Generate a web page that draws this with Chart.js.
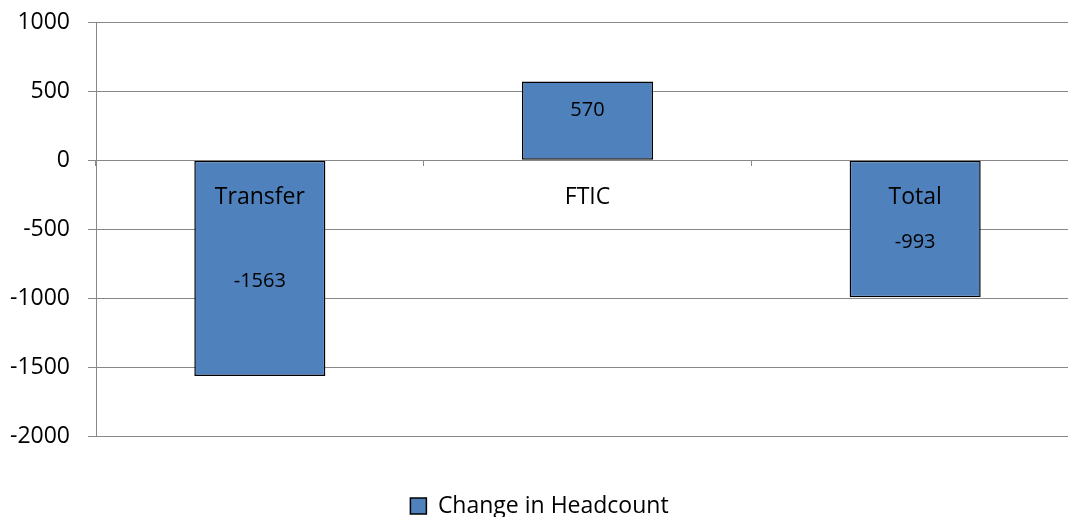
<!DOCTYPE html>
<html>
<head>
<meta charset="utf-8">
<script src="https://cdn.jsdelivr.net/npm/chart.js@4.4.1/dist/chart.umd.min.js"></script>
<style>
  html, body { margin: 0; padding: 0; background: #fff; overflow: hidden; width: 1068px; height: 517px; }
  #wrap { width: 1079px; height: 517px; }
</style>
</head>
<body>
<div id="wrap"><canvas id="c" width="1079" height="517"></canvas></div>
<script>
const categories = ['Transfer', 'FTIC', 'Total'];
const headcountChange = [-1563, 570, -993];
const seriesName = 'Change in Headcount';
const yMin = -2000, yMax = 1000, yStep = 500;

const FONT = '"Open Sans", "Liberation Sans", sans-serif';
const GRID = '#888888';

const barLabels = {
  id: 'barLabels',
  afterDraw(chart) {
    const ctx = chart.ctx;
    const meta = chart.getDatasetMeta(0);
    ctx.save();
    ctx.font = '20px ' + FONT;
    ctx.fillStyle = '#000';
    ctx.textAlign = 'center';
    ctx.textBaseline = 'middle';
    meta.data.forEach((bar, i) => {
      const v = chart.data.datasets[0].data[i];
      const cy = (bar.y + bar.base) / 2 + (v >= 0 ? -10 : 13);
      ctx.fillText(String(v), bar.x, cy);
    });
    ctx.restore();
  }
};

new Chart(document.getElementById('c'), {
  type: 'bar',
  data: {
    labels: categories,
    datasets: [{
      label: seriesName,
      data: headcountChange,
      backgroundColor: '#4F81BD',
      borderColor: '#000000',
      borderWidth: 1.5,
      borderSkipped: false,
      categoryPercentage: 1.0,
      barPercentage: 0.4
    }]
  },
  options: {
    responsive: false,
    animation: false,
    layout: { padding: { top: 22, bottom: -10.5, left: 0, right: 0 } },
    plugins: {
      tooltip: { enabled: false },
      legend: {
        display: true,
        position: 'bottom',
        title: { display: true, text: ' ', font: { size: 10, lineHeight: 1 }, padding: { top: 0, bottom: 47 } },
        labels: {
          boxWidth: 16,
          boxHeight: 16,
          padding: 1,
          color: '#000',
          font: { size: 23, family: FONT }
        }
      }
    },
    scales: {
      x: {
        position: { y: 0 },
        offset: true,
        afterFit(scale) { scale.paddingTop = 0; scale.paddingBottom = 0; },
        grid: {
          offset: true,
          drawOnChartArea: false,
          drawTicks: true,
          tickLength: 6,
          color: GRID,
          z: 1
        },
        border: { display: false },
        ticks: {
          z: 2,
          autoSkip: false,
          color: '#000',
          padding: 17,
          font: { size: 23, family: FONT },
          maxRotation: 0
        }
      },
      y: {
        min: yMin,
        max: yMax,
        afterFit(scale) { scale.width = 96; scale.paddingTop = 0; scale.paddingBottom = 0; },
        grid: { color: GRID, tickLength: 8, lineWidth: 1 },
        border: { display: true, color: GRID, width: 1 },
        ticks: {
          stepSize: yStep,
          color: '#000',
          padding: 18,
          font: { size: 23, family: FONT },
          callback: (v) => String(v)
        }
      }
    }
  },
  plugins: [barLabels]
});
</script>
</body>
</html>
